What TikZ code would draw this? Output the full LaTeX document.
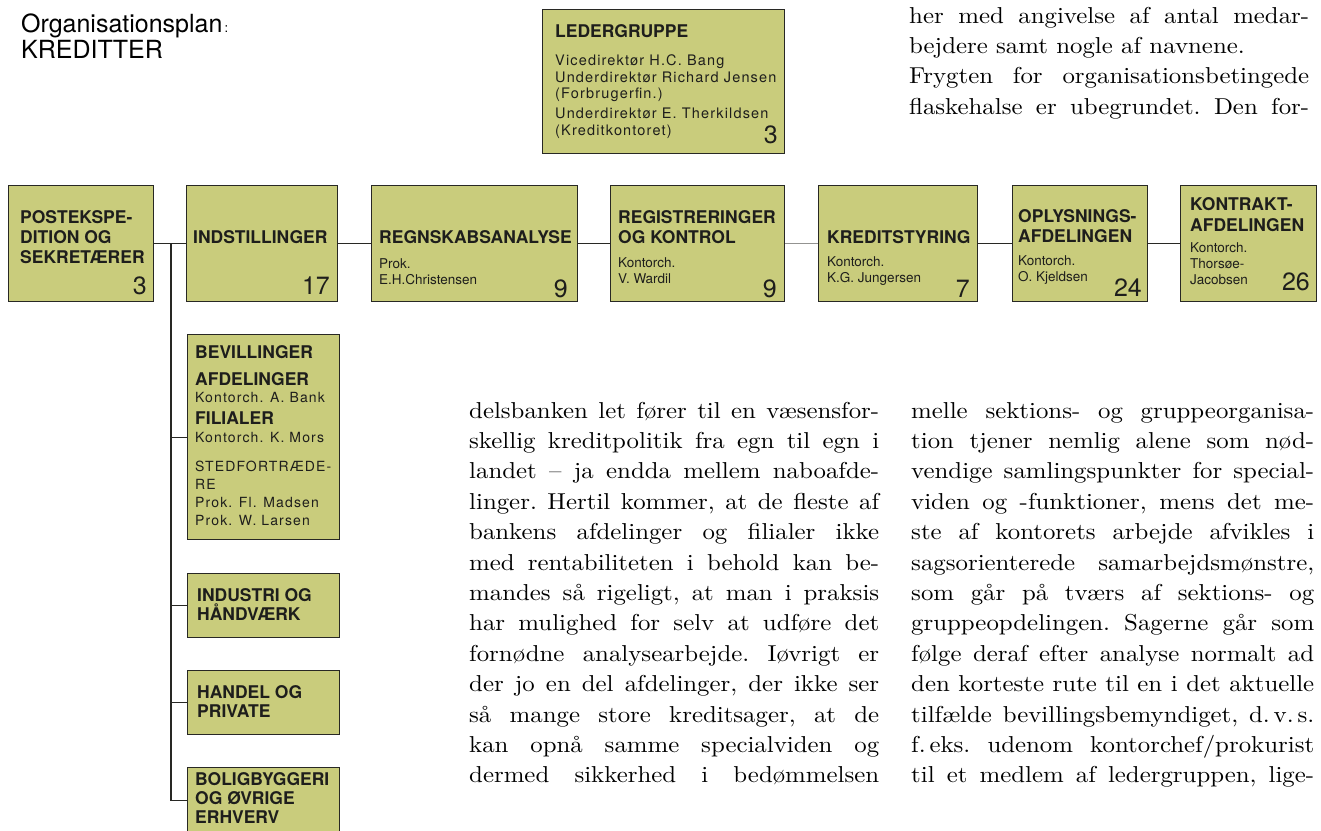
\documentclass[tikz,border=0pt]{standalone}
\usepackage{fontspec}
\setsansfont{TeX Gyre Heros}
\newfontfamily\spaced{TeX Gyre Heros}[LetterSpace=8]
\newfontfamily\bodyfont{lmroman10-regular.otf}[FakeStretch=1.08]
\definecolor{boxfill}{RGB}{201,204,124}
\definecolor{boxline}{RGB}{40,40,36}
\definecolor{ink}{RGB}{30,30,28}
\newcommand\jl[1]{\hbox to\hsize{#1}}
\newcommand\rl[1]{\hbox to\hsize{#1\hfil}}
\begin{document}
\begin{tikzpicture}[x=1pt,y=-1pt,
  afd/.style={draw=boxline, fill=boxfill, line width=1.4pt, anchor=north west, inner sep=0pt},
  hd/.style={anchor=base west, inner sep=0pt, align=left, text=ink, font=\sffamily\bfseries\fontsize{17.5}{20}\selectfont},
  nm/.style={anchor=base west, inner sep=0pt, align=left, text=ink, font=\sffamily\fontsize{13.5}{16}\selectfont},
  sp/.style={anchor=base west, inner sep=0pt, align=left, text=ink, font=\spaced\fontsize{14}{17.7}\selectfont},
  tal/.style={anchor=base east, inner sep=0pt, text=ink, font=\sffamily\fontsize{25}{25}\selectfont},
  txt/.style={anchor=base west, inner sep=0pt, font=\bodyfont\fontsize{23}{30.4}\selectfont},
  lnk/.style={draw=boxline, line width=1.3pt}]
\clip (0,0) rectangle (1321,830);
\node[anchor=base west, inner sep=0pt, align=left, font=\sffamily\fontsize{25}{26}\selectfont] (titel) at (21,58) {Organisationsplan{\fontsize{13}{13}\selectfont\,:}\\KREDITTER};

\node[afd, minimum width=242, minimum height=144] (led) at (542,9) {};
\node[hd] (ledt) at (555,37) {LEDERGRUPPE};
\node[sp, font=\spaced\fontsize{14.5}{16.5}\selectfont] (ledn) at (555,135) {Vicedirektør H.C. Bang\\Underdirektør Richard Jensen\\(Forbrugerfin.)\\[3.5pt]Underdirektør E. Therkildsen\\(Kreditkontoret)};
\node[tal] (ledz) at (778,143) {3};

\node[afd, minimum width=145, minimum height=116] (afd0) at (8,185) {};
\node[hd] (afd0t) at (20,263) {POSTEKSPE-\\DITION OG\\SEKRETÆRER};
\node[tal] (afd0z) at (147,294) {3};
\node[afd, minimum width=151, minimum height=116] (afd1) at (186,185) {};
\node[hd] (afd1t) at (193,243) {INDSTILLINGER};
\node[tal] (afd1z) at (330,294) {17};
\node[afd, minimum width=206, minimum height=116] (afd2) at (371,185) {};
\node[hd] (afd2t) at (379,243) {REGNSKABSANALYSE};
\node[nm] (afd2n) at (379,284) {Prok.\\E.H.Christensen};
\node[tal] (afd2z) at (568,297) {9};
\node[afd, minimum width=174, minimum height=116] (afd3) at (610,185) {};
\node[hd] (afd3t) at (618,243) {REGISTRERINGER\\OG KONTROL};
\node[nm] (afd3n) at (618,283) {Kontorch.\\V. Wardil};
\node[tal] (afd3z) at (777,297) {9};
\node[afd, minimum width=159, minimum height=116] (afd4) at (818,185) {};
\node[hd] (afd4t) at (827,243) {KREDITSTYRING};
\node[nm] (afd4n) at (827,282) {Kontorch.\\K.G. Jungersen};
\node[tal] (afd4z) at (970,297) {7};
\node[afd, minimum width=135, minimum height=116] (afd5) at (1012,185) {};
\node[hd] (afd5t) at (1018,242) {OPLYSNINGS-\\AFDELINGEN};
\node[nm] (afd5n) at (1018,281) {Kontorch.\\O. Kjeldsen};
\node[tal] (afd5z) at (1142,296) {24};
\node[afd, minimum width=136, minimum height=116] (afd6) at (1180,185) {};
\node[hd, font=\sffamily\bfseries\fontsize{17.5}{21}\selectfont] (afd6t) at (1190,231) {KONTRAKT-\\AFDELINGEN};
\node[nm] (afd6n) at (1190,284) {Kontorch.\\Thorsøe-\\Jacobsen};
\node[tal] (afd6z) at (1310,290) {26};

\node[afd, minimum width=152, minimum height=205] (sek0) at (187,334) {};
\node[hd] (sek0a) at (195,358) {BEVILLINGER};
\node[hd] (sek0b) at (195,385) {AFDELINGER};
\node[sp] (sek0c) at (195,402) {Kontorch. A. Bank};
\node[hd] (sek0d) at (195,424) {FILIALER};
\node[sp] (sek0e) at (195,442) {Kontorch. K. Mors};
\node[sp] (sek0f) at (195,525) {STEDFORTRÆDE-\\RE\\Prok. Fl. Madsen\\Prok. W. Larsen};
\node[afd, minimum width=152, minimum height=64] (sek1) at (187,573) {};
\node[hd, font=\sffamily\bfseries\fontsize{17.5}{18.5}\selectfont] (sek1t) at (197,620) {INDUSTRI OG\\HÅNDVÆRK};
\node[afd, minimum width=152, minimum height=64] (sek2) at (187,670) {};
\node[hd, font=\sffamily\bfseries\fontsize{17.5}{19}\selectfont] (sek2t) at (197,717) {HANDEL OG\\PRIVATE};
\node[afd, minimum width=152, minimum height=66] (sek3) at (187,767) {};
\node[hd, font=\sffamily\bfseries\fontsize{17.5}{19}\selectfont] (sek3t) at (195,823) {BOLIGBYGGERI\\OG ØVRIGE\\ERHVERV};

\coordinate (tap) at (171,243);
\draw[lnk] (afd0) -- (afd1);
\draw[lnk] (afd1) -- (afd2);
\draw[lnk] (afd2) -- (afd3);
\draw[lnk, draw=boxline!50] (afd3) -- (afd4);
\draw[lnk] (afd4) -- (afd5);
\draw[lnk] (afd5) -- (afd6);
\draw[lnk] (tap) |- (sek3);
\draw[lnk] (sek0.west -| tap) -- (sek0.west);
\draw[lnk] (sek1.west -| tap) -- (sek1.west);
\draw[lnk] (sek2.west -| tap) -- (sek2.west);

\node[txt] (tekst0) at (909,23) {\parbox[t]{400pt}{\frenchspacing
\jl{her med angivelse af antal medar-}
\rl{bejdere samt nogle af navnene.}
\jl{Frygten for organisationsbetingede}
\jl{flaskehalse er ubegrundet. Den for-}}};

\node[txt] (tekst1) at (469,418) {\parbox[t]{410pt}{\frenchspacing
\jl{delsbanken let fører til en væsensfor-}
\jl{skellig kreditpolitik fra egn til egn i}
\jl{landet – ja endda mellem naboafde-}
\jl{linger. Hertil kommer, at de fleste af}
\jl{bankens afdelinger og filialer ikke}
\jl{med rentabiliteten i behold kan be-}
\jl{mandes så rigeligt, at man i praksis}
\jl{har mulighed for selv at udføre det}
\jl{fornødne analysearbejde. Iøvrigt er}
\jl{der jo en del afdelinger, der ikke ser}
\jl{så mange store kreditsager, at de}
\jl{kan opnå samme specialviden og}
\jl{dermed sikkerhed i bedømmelsen}}};

\node[txt] (tekst2) at (911,418) {\parbox[t]{403pt}{\frenchspacing
\jl{melle sektions- og gruppeorganisa-}
\jl{tion tjener nemlig alene som nød-}
\jl{vendige samlingspunkter for special-}
\jl{viden og -funktioner, mens det me-}
\jl{ste af kontorets arbejde afvikles i}
\jl{sagsorienterede samarbejdsmønstre,}
\jl{som går på tværs af sektions- og}
\jl{gruppeopdelingen. Sagerne går som}
\jl{følge deraf efter analyse normalt ad}
\jl{den korteste rute til en i det aktuelle}
\jl{tilfælde bevillingsbemyndiget, d.\,v.\,s.}
\jl{f.\,eks. udenom kontorchef/prokurist}
\jl{til et medlem af ledergruppen, lige-}}};
\end{tikzpicture}
\end{document}
